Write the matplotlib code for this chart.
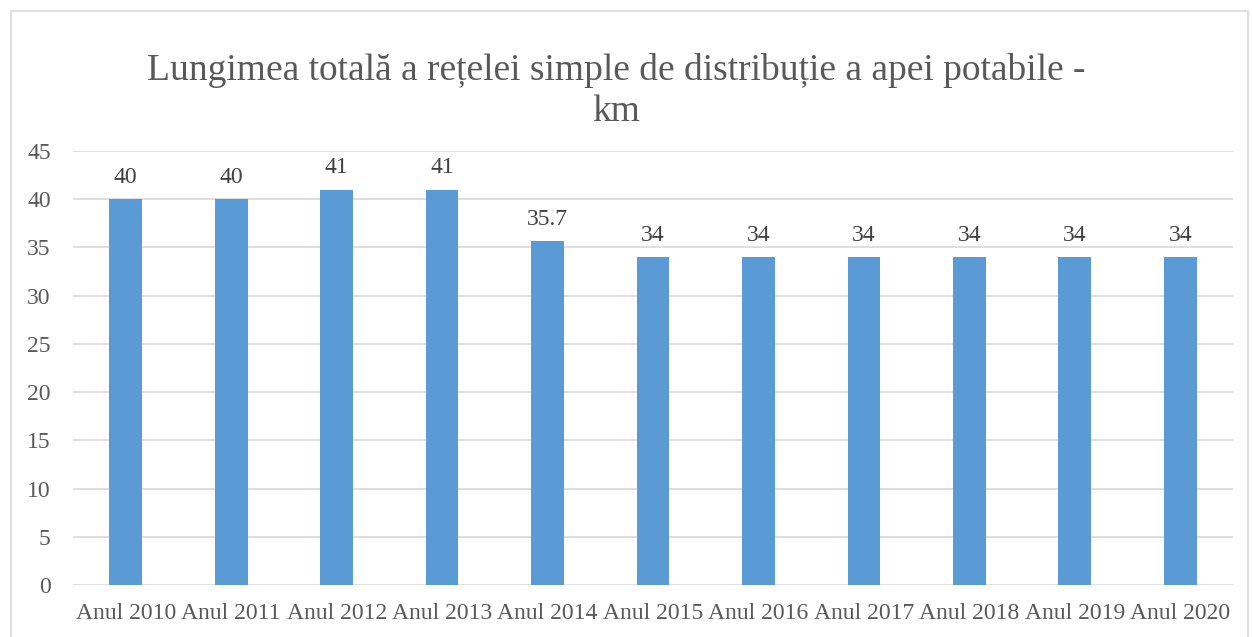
import matplotlib.pyplot as plt
from matplotlib.patches import Rectangle
import numpy as np

# data
categories = ['Anul 2010', 'Anul 2011', 'Anul 2012', 'Anul 2013', 'Anul 2014', 'Anul 2015',
              'Anul 2016', 'Anul 2017', 'Anul 2018', 'Anul 2019', 'Anul 2020']
values = [40, 40, 41, 41, 35.7, 34, 34, 34, 34, 34, 34]
value_labels = ['40', '40', '41', '41', '35.7', '34', '34', '34', '34', '34', '34']
yticks = [0, 5, 10, 15, 20, 25, 30, 35, 40, 45]

plt.rcParams['font.family'] = ['Liberation Serif', 'DejaVu Serif']

fig = plt.figure(figsize=(12.52, 6.37), dpi=100)
ax = fig.add_axes([73 / 1252, 1 - 585 / 637, 1160 / 1252, (585 - 151) / 637])

x = np.arange(len(categories))
bars = ax.bar(x, values, width=0.31, color='#5B9BD5', zorder=3)

for xi, v, lab in zip(x, values, value_labels):
    ax.annotate(lab, (xi, v), xytext=(0, 8), textcoords='offset points',
                ha='center', va='bottom', fontsize=17, color='#404040')

ax.set_xlim(-0.5, len(categories) - 0.5)
ax.set_ylim(0, 45)
ax.set_yticks(yticks)
ax.set_xticks(x)
ax.set_xticklabels(categories)
ax.tick_params(axis='both', length=0, labelsize=17, labelcolor='#595959')
ax.tick_params(axis='x', pad=13)
ax.tick_params(axis='y', pad=16)
ax.grid(axis='y', color='#D9D9D9', linewidth=1.2, zorder=0)
for s in ax.spines.values():
    s.set_visible(False)

fig.text(0.492, 0.857, 'Lungimea totală a rețelei simple de distribuție a apei potabile -\nkm',
         ha='center', va='center', fontsize=27, color='#595959', linespacing=1.22)

# outer chart border
fig.patches.append(Rectangle((11 / 1252, -0.05), 1237 / 1252, 1 - 11 / 637 + 0.05,
                             transform=fig.transFigure, fill=False,
                             edgecolor='#D9D9D9', linewidth=1.2))

fig.savefig('out.png', dpi=100, facecolor='white')
